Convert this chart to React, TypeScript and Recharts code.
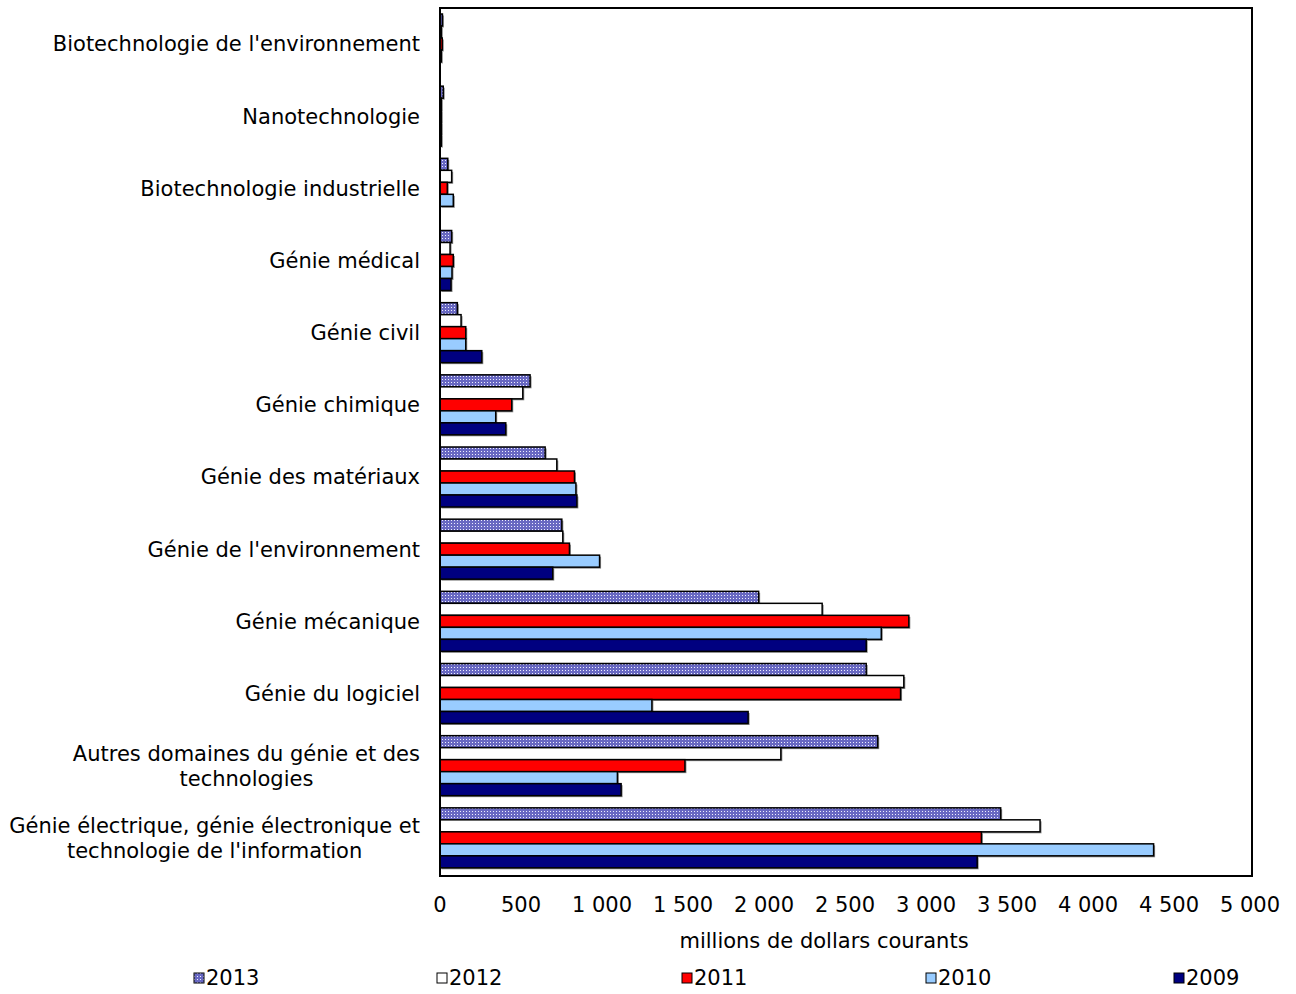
import { BarChart, Bar, XAxis, YAxis } from 'recharts';

const categories = [
  "Biotechnologie de l'environnement",
  'Nanotechnologie',
  'Biotechnologie industrielle',
  'Génie médical',
  'Génie civil',
  'Génie chimique',
  'Génie des matériaux',
  "Génie de l'environnement",
  'Génie mécanique',
  'Génie du logiciel',
  'Autres domaines du génie et des\ntechnologies',
  "Génie électrique, génie électronique et\ntechnologie de l'information",
];

const v2013 = [15, 20, 48, 72, 107, 556, 649, 752, 1967, 2631, 2702, 3461];
const v2012 = [8, 8, 72, 62, 130, 511, 721, 758, 2359, 2863, 2104, 3704];
const v2011 = [14, 8, 45, 82, 159, 443, 830, 799, 2894, 2843, 1512, 3342];
const v2010 = [8, 8, 82, 74, 159, 344, 839, 985, 2724, 1308, 1095, 4405];
const v2009 = [0, 8, 0, 68, 258, 406, 845, 696, 2631, 1902, 1118, 3316];

const xTicks = [0, 500, 1000, 1500, 2000, 2500, 3000, 3500, 4000, 4500, 5000];

const years = ['2013', '2012', '2011', '2010', '2009'];
const yearFills = ['url(#dots2013)', '#ffffff', '#ff0000', '#99ccff', '#000080'];

const rows = categories.map((name, i) => ({
  name,
  '2013': v2013[i],
  '2012': v2012[i],
  '2011': v2011[i],
  '2010': v2010[i],
  '2009': v2009[i],
}));

const FONT = '"DejaVu Sans", Verdana, sans-serif';
const FS = 21;

const fmt = (v: number) => String(v).replace(/\B(?=(\d{3})+(?!\d))/g, ' ');

// multi-line labels: block right-aligned, lines centred in the block
function CategoryTick(props: any) {
  const { x, y, payload } = props;
  const lines = String(payload.value).split('\n');
  const lh = 25;
  const start = y - ((lines.length - 1) * lh) / 2;
  if (lines.length === 1) {
    return (
      <text x={x} y={y} dy="0.35em" textAnchor="end" fontSize={FS} fontFamily={FONT} fill="#000">
        {lines[0]}
      </text>
    );
  }
  return (
    <g>
      {lines.map((l, k) => (
        <text key={k} x={x} y={start + k * lh} dy="0.35em" textAnchor="end" fontSize={FS} fontFamily={FONT} fill="#000"
          ref={(el) => {
            if (!el || k === 0) return;
            const first = el.parentNode?.firstChild as SVGTextElement | null;
            if (!first) return;
            const w0 = first.getComputedTextLength();
            const w = el.getComputedTextLength();
            el.setAttribute('x', String(x - (w0 - w) / 2));
          }}
        >
          {l}
        </text>
      ))}
    </g>
  );
}

function BarShape(props: any) {
  const { x, y, width, height, fill } = props;
  if (!width || width <= 0) return null;
  return (
    <g>
      <rect x={x + 1.5} y={y + 1.5} width={width} height={height} fill="#8c8c8c" />
      <rect x={x} y={y} width={width} height={height} fill={fill} stroke="#000" strokeWidth={1.5} />
    </g>
  );
}

const legendX = [193, 436, 681, 925, 1173];

export default function App() {
  return (
    <div style={{ position: 'absolute', left: 0, top: 0, width: 1296, height: 994, background: '#fff', fontFamily: FONT }}>
      <BarChart
        width={1296}
        height={994}
        data={rows}
        layout="vertical"
        margin={{ top: 8, right: 46, bottom: 80, left: 0 }}
        barCategoryGap={6}
        barGap={0}
      >
        <defs>
          <pattern id="dots2013" width="3" height="3" patternUnits="userSpaceOnUse">
            <rect width="3" height="3" fill="#6868c2" />
            <rect x="1" y="1" width="1" height="1" fill="#eeeeff" />
          </pattern>
        </defs>
        <XAxis
          type="number"
          domain={[0, 5000]}
          ticks={xTicks}
          tickFormatter={fmt}
          axisLine={false}
          tickLine={false}
          tickMargin={17}
          height={40}
          interval={0}
          tick={{ fontSize: FS, fontFamily: FONT, fill: '#000' }}
        />
        <YAxis
          type="category"
          dataKey="name"
          width={440}
          axisLine={false}
          tickLine={false}
          tickMargin={14}
          interval={0}
          tick={<CategoryTick />}
        />
        {years.map((yr, i) => (
          <Bar key={yr} dataKey={yr} fill={yearFills[i]} shape={<BarShape />} isAnimationActive={false} />
        ))}
      </BarChart>
      <div style={{ position: 'absolute', left: 439, top: 7, width: 810, height: 866, border: '2px solid #000', pointerEvents: 'none' }} />
      <div style={{ position: 'absolute', left: 624, width: 400, top: 929, textAlign: 'center', fontSize: FS }}>
        millions de dollars courants
      </div>
      {years.map((yr, i) => (
        <div key={yr} style={{ position: 'absolute', left: legendX[i], top: 966, display: 'flex', alignItems: 'center', fontSize: FS }}>
          <svg width={12} height={12} style={{ marginRight: 1 }}>
            <defs>
              <pattern id={`lg${yr}`} width="3" height="3" patternUnits="userSpaceOnUse">
                <rect width="3" height="3" fill="#6868c2" />
                <rect x="1" y="1" width="1" height="1" fill="#eeeeff" />
              </pattern>
            </defs>
            <rect x={1} y={1} width={10} height={10} fill={i === 0 ? `url(#lg${yr})` : yearFills[i]} stroke="#000" strokeWidth={1} />
          </svg>
          <span>{yr}</span>
        </div>
      ))}
    </div>
  );
}
